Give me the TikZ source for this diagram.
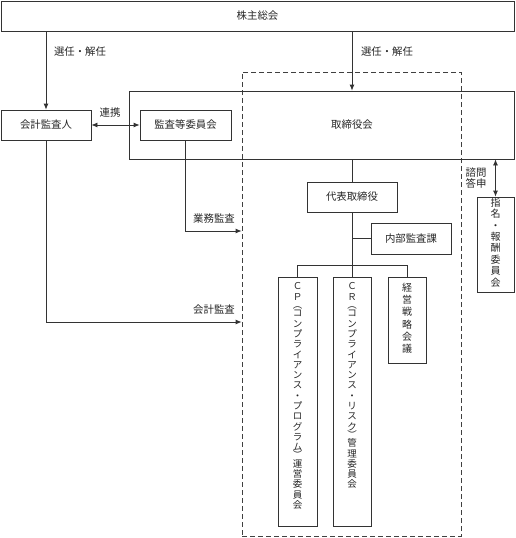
\documentclass[tikz,border=0pt]{standalone}
\usepackage{fontspec}
\setmainfont{Noto Sans CJK JP}
\usetikzlibrary{arrows.meta,positioning}
\tikzset{
  ln/.style={draw=black!80, line width=0.8pt},
  arr/.style={ln, -{Latex[length=6pt,width=5pt]}},
  darr/.style={ln, {Latex[length=6pt,width=5pt]}-{Latex[length=6pt,width=5pt]}},
  box/.style={ln, rectangle, inner sep=0pt, font=\fontsize{10.4}{12}\selectfont, text=black!85},
  vtxt/.style={inner sep=0pt, align=center, text width=11pt, text=black!85},
  lbl/.style={inner sep=0pt, font=\fontsize{10.4}{12}\selectfont, text=black!85},
}
\begin{document}
\begin{tikzpicture}[x=1pt,y=-1pt]
\useasboundingbox (0,0) rectangle (515,538);
% group (dashed)
\node[draw=black!75, line width=0.8pt, dash pattern=on 5pt off 3pt, rectangle, inner sep=0pt,
      minimum width=219pt, minimum height=464pt] (grp) at (351.5,304) {};
% boxes
\node[box, minimum width=513pt, minimum height=30pt] (sh) at (257.5,16) {株主総会};
\node[box, minimum width=385pt, minimum height=68pt] (tb) at (321.5,125) {};
\node[lbl] (tbt) at (352,125) {取締役会};
\node[box, minimum width=90pt, minimum height=30pt] (kk) at (46,125) {会計監査人};
\node[box, minimum width=91pt, minimum height=30pt] (ki) at (185.5,125) {監査等委員会};
\node[box, minimum width=90pt, minimum height=30pt] (dh) at (352,197) {代表取締役};
\node[box, minimum width=80pt, minimum height=31pt] (nb) at (411,238.5) {内部監査課};
\node[box, minimum width=39pt, minimum height=249pt] (cp) at (297.5,401.5) {};
\node[box, minimum width=38pt, minimum height=249pt] (cr) at (352,401.5) {};
\node[box, minimum width=38pt, minimum height=86pt] (ke) at (407,320) {};
\node[box, minimum width=37pt, minimum height=95pt] (sm) at (495.5,244.5) {};
% vertical texts
\node[vtxt, font=\fontsize{9.5}{10.3}\selectfont, below=6pt of cp.north] (cpt)
  {Ｃ\\Ｐ\\[-2pt]︵\\[-2pt]コ\\ン\\プ\\ラ\\イ\\ア\\ン\\ス\\・\\プ\\ロ\\グ\\ラ\\ム\\[-2pt]︶\\[-2pt]運\\営\\委\\員\\会};
\node[vtxt, font=\fontsize{9.5}{10.3}\selectfont, below=6pt of cr.north] (crt)
  {Ｃ\\Ｒ\\[-2pt]︵\\[-2pt]コ\\ン\\プ\\ラ\\イ\\ア\\ン\\ス\\・\\リ\\ス\\ク\\[-2pt]︶\\[-2pt]管\\理\\委\\員\\会};
\node[vtxt, font=\fontsize{10}{12.3}\selectfont, below=6pt of ke.north] (ket)
  {経\\営\\戦\\略\\会\\議};
\node[vtxt, font=\fontsize{10}{11.4}\selectfont, below=1pt of sm.north] (smt)
  {指\\名\\・\\報\\酬\\委\\員\\会};
% coordinates
\coordinate (bus) at (352,265);
\coordinate (gy) at (185.5,231);
\coordinate (ka) at (46,322);
% connectors
\draw[arr] (kk.north |- sh.south) -- (kk.north);
\draw[arr] (dh.north |- sh.south) -- (dh.north |- tb.north);
\draw[darr] (kk.east) -- (ki.west);
\draw[ln] (dh.north |- tb.south) -- (dh.north);
\draw[ln] (dh.south) -- (cr.north);
\draw[ln] (dh.south |- nb.west) -- (nb.west);
\draw[ln] (cp.north) -- (cp.north |- bus) -- (ke.north |- bus) -- (ke.north);
\draw[darr] (sm.north |- tb.south) -- (sm.north);
\draw[arr] (ki.south) -- (gy) -- (grp.west |- gy);
\draw[arr] (kk.south) -- (ka) -- (grp.west |- ka);
% labels
\node[lbl] (l1) at (80,52) {選任・解任};
\node[lbl] (l2) at (387,52) {選任・解任};
\node[lbl] (l3) at (110,113) {連携};
\node[lbl] (l4) at (214,219) {業務監査};
\node[lbl] (l5) at (214,310) {会計監査};
\node[lbl, align=center, font=\fontsize{10.4}{11.5}\selectfont] (l6) at (476,178) {諮問\\答申};
\end{tikzpicture}
\end{document}
